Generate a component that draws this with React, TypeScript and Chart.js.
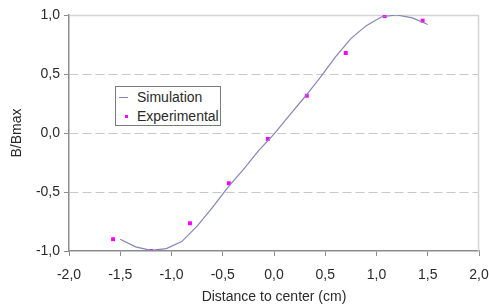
import React, { useEffect, useRef } from "react";
import { Chart, registerables } from "chart.js";

Chart.register(...registerables);

const simX = [-1.5, -1.35, -1.2, -1.05, -0.9, -0.75, -0.6, -0.45, -0.3, -0.15, 0, 0.15, 0.3, 0.45, 0.6, 0.75, 0.9, 1.05, 1.2, 1.35, 1.5];
const simY = [-0.9, -0.965, -0.995, -0.98, -0.92, -0.79, -0.63, -0.46, -0.31, -0.15, -0.01, 0.15, 0.305, 0.47, 0.645, 0.8, 0.91, 0.985, 1.0, 0.975, 0.92];
const expX = [-1.57, -1.2, -0.82, -0.44, -0.06, 0.32, 0.7, 1.08, 1.45];
const expY = [-0.9, -1.0, -0.765, -0.426, -0.05, 0.316, 0.678, 0.99, 0.952];
const xTicks = [-2, -1.5, -1, -0.5, 0, 0.5, 1, 1.5, 2];
const yTicks = [-1, -0.5, 0, 0.5, 1];
const seriesNames = ["Simulation", "Experimental"];
const xTitle = "Distance to center (cm)";
const yTitle = "B/Bmax";

const SIM_COLOR = "#8585b5";
const EXP_COLOR = "#ff00ff";
const FONT = "'Liberation Sans', Arial, sans-serif";
const TEXT = "#2a2a2a";
const AXIS = "#8c8c8c";

const fmt = (v: number) => v.toFixed(1).replace(".", ",");

const framePlugin = {
  id: "frame",
  beforeDatasetsDraw(chart: any) {
    const { ctx, chartArea } = chart;
    ctx.save();
    ctx.strokeStyle = "#d4d4d4";
    ctx.lineWidth = 1.5;
    ctx.beginPath();
    ctx.moveTo(chartArea.left, chartArea.top + 0.5);
    ctx.lineTo(chartArea.right - 0.5, chartArea.top + 0.5);
    ctx.lineTo(chartArea.right - 0.5, chartArea.bottom);
    ctx.stroke();
    ctx.restore();
  },
};

export default function App() {
  const ref = useRef<HTMLCanvasElement | null>(null);
  useEffect(() => {
    if (!ref.current) return;
    const chart = new Chart(ref.current, {
      type: "scatter",
      data: {
        datasets: [
          {
            label: seriesNames[0],
            data: simX.map((x, i) => ({ x, y: simY[i] })),
            showLine: true,
            borderColor: SIM_COLOR,
            borderWidth: 1.2,
            pointRadius: 0,
            tension: 0,
          },
          {
            label: seriesNames[1],
            data: expX.map((x, i) => ({ x, y: expY[i] })),
            showLine: false,
            backgroundColor: EXP_COLOR,
            borderColor: EXP_COLOR,
            pointStyle: "rect",
            pointRadius: 2.8,
            borderWidth: 0,
          },
        ],
      },
      options: {
        responsive: false,
        animation: false,
        devicePixelRatio: 1,
        layout: { padding: { top: 15, right: 0, left: 0, bottom: 0 } },
        plugins: { legend: { display: false }, tooltip: { enabled: false } },
        scales: {
          x: {
            type: "linear",
            min: -2,
            max: 2,
            afterBuildTicks: (s: any) => {
              s.ticks = xTicks.map((v) => ({ value: v }));
            },
            afterFit: (s: any) => {
              s.height = 55;
              s.paddingRight = 10;
              s.paddingLeft = 0;
            },
            grid: {
              drawOnChartArea: false,
              drawTicks: true,
              tickLength: 5,
              tickColor: AXIS,
              tickWidth: 1,
            },
            border: { display: true, color: AXIS, width: 1.5 },
            ticks: {
              callback: (v: any) => fmt(Number(v)),
              font: { family: FONT, size: 14 },
              color: TEXT,
              padding: 11,
              maxRotation: 0,
              autoSkip: false,
            },
            title: {
              display: true,
              text: xTitle,
              font: { family: FONT, size: 14 },
              color: TEXT,
              padding: { top: 0, bottom: 0 },
            },
          },
          y: {
            type: "linear",
            min: -1,
            max: 1,
            afterBuildTicks: (s: any) => {
              s.ticks = yTicks.map((v) => ({ value: v }));
            },
            afterFit: (s: any) => {
              s.width = 69;
            },
            grid: {
              drawOnChartArea: true,
              drawTicks: true,
              tickLength: 5,
              tickColor: AXIS,
              tickBorderDash: [],
              color: (c: any) =>
                c.tick && (c.tick.value === 1 || c.tick.value === -1) ? "rgba(0,0,0,0)" : "#c8c8c8",
              lineWidth: 1,
            },
            border: { display: true, color: AXIS, width: 1.5, dash: [9, 4] },
            ticks: {
              callback: (v: any) => fmt(Number(v)),
              font: { family: FONT, size: 14 },
              color: TEXT,
              padding: 4,
              autoSkip: false,
            },
            title: {
              display: true,
              text: yTitle,
              font: { family: FONT, size: 14 },
              color: TEXT,
              padding: { top: 8.5, bottom: 0 },
            },
          },
        },
      },
      plugins: [framePlugin],
    });
    return () => chart.destroy();
  }, []);

  const legendFont: React.CSSProperties = {
    position: "absolute",
    left: 21,
    fontFamily: FONT,
    fontSize: 14,
    color: TEXT,
    lineHeight: "16px",
    whiteSpace: "nowrap",
  };

  return (
    <div style={{ position: "fixed", left: 0, top: 0, width: 489, height: 306, background: "#fff" }}>
      <canvas ref={ref} width={489} height={306} style={{ display: "block", width: 489, height: 306 }} />
      <div
        style={{
          position: "absolute",
          left: 115,
          top: 86,
          width: 106,
          height: 40,
          border: "1px solid #7a7a7a",
          background: "#fff",
          boxSizing: "border-box",
        }}
      >
        <div style={{ position: "absolute", left: 3, top: 10, width: 9, height: 0, borderTop: `1.2px solid ${SIM_COLOR}` }} />
        <div style={{ ...legendFont, top: 2 }}>{seriesNames[0]}</div>
        <div style={{ position: "absolute", left: 9, top: 28, width: 3, height: 3, background: EXP_COLOR }} />
        <div style={{ ...legendFont, top: 21 }}>{seriesNames[1]}</div>
      </div>
    </div>
  );
}
